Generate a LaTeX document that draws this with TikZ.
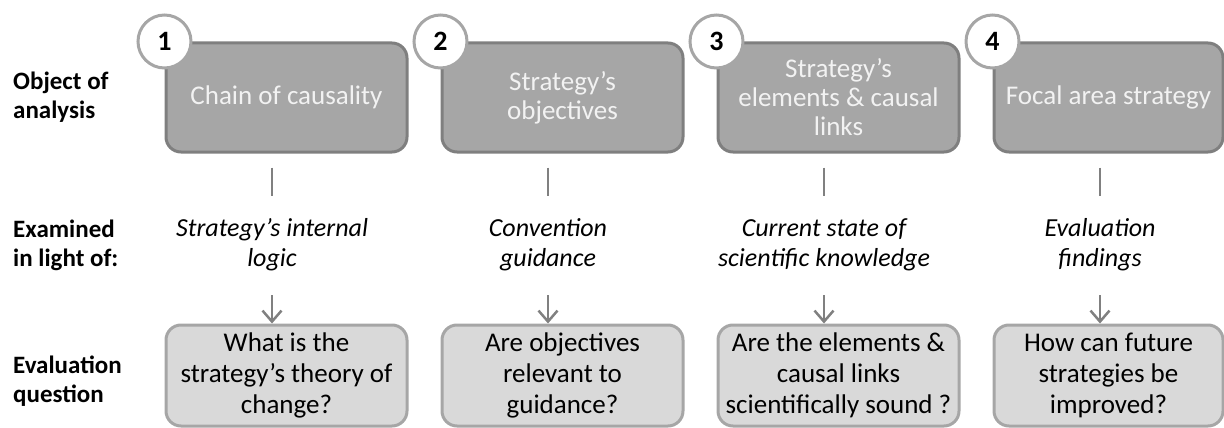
\documentclass[tikz,border=0pt]{standalone}
\usepackage{fontspec}
\setmainfont{Carlito}
\usetikzlibrary{arrows.meta, positioning}

\definecolor{objfill}{HTML}{A6A6A6}
\definecolor{objedge}{HTML}{7F7F7F}
\definecolor{qfill}{HTML}{D9D9D9}
\definecolor{qedge}{HTML}{A6A6A6}
\definecolor{linkgray}{HTML}{808080}

\tikzset{
  objbox/.style={draw=objedge, fill=objfill, line width=3pt, rounded corners=15pt,
    minimum height=109pt, align=center, text=white!95!black,
    font=\fontsize{27}{29}\selectfont},
  qbox/.style={draw=qedge, fill=qfill, line width=3pt, rounded corners=15pt,
    minimum height=101pt, align=center, text=black,
    font=\fontsize{27}{31}\selectfont},
  numdot/.style={circle, draw=qedge, fill=white, line width=3pt, minimum size=53pt,
    inner sep=0pt, font=\fontsize{28}{28}\selectfont\bfseries},
  lens/.style={align=center, inner sep=0pt, font=\fontsize{26}{30}\selectfont\itshape},
  rowlabel/.style={align=left, inner sep=0pt, anchor=west,
    font=\fontsize{25}{29}\selectfont\bfseries},
  link/.style={draw=linkgray, line width=2.5pt}
}

\begin{document}
\begin{tikzpicture}[x=1pt, y=-1pt]
    \useasboundingbox (0,0) rectangle (1224,428);

    % Row headings
    \node[rowlabel] (rowobj) at (13,97) {Object of\\analysis};
    \node[rowlabel] (rowlens) at (13,245) {Examined\\in light of:};
    \node[rowlabel] (rowq) at (13,381) {Evaluation\\question};

    % Columns: object, lens, question
    \foreach \i/\w/\objtext/\lenstext/\qtext [evaluate=\i as \x using 163+276*(\i-1)] in {
        1/241/{Chain of causality}/{Strategy’s internal\\logic}/{What is the\\strategy’s theory of\\change?},
        2/241/{Strategy’s\\objectives}/{Convention\\guidance}/{Are objectives\\relevant to\\guidance?},
        3/241/{Strategy’s\\elements \& causal\\links}/{Current state of\\scientific knowledge}/{Are the elements \&\\causal links\\scientifically sound ?},
        4/229/{Focal area strategy}/{Evaluation\\findings}/{How can future\\strategies be\\improved?}}
    {
        \node[objbox, minimum width=\w pt, anchor=north west] (obj\i) at (\x+1.5,41.5) {\objtext};
        \node[numdot] (num\i) at (obj\i.north west) {\i};
        \node[lens] (lens\i) at (\x+109,245) {\lenstext};
        \node[qbox, minimum width=\w pt, anchor=north west] (q\i) at (\x+1.5,323.5) {\qtext};

        \draw[link, shorten <=14pt, shorten >=23pt] (obj\i.south -| lens\i) -- (lens\i.north);
        \draw[link, -{Straight Barb[length=11pt,width=19pt]}, shorten <=24pt]
            (lens\i.south) -- (q\i.north -| lens\i);
    }
\end{tikzpicture}
\end{document}
